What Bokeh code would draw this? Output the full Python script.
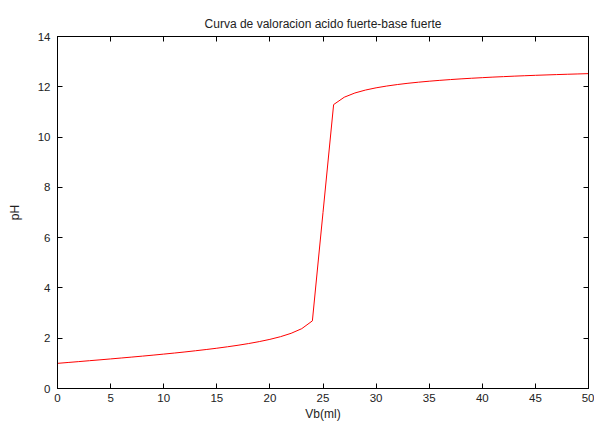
from bokeh.plotting import figure
from bokeh.models import LinearAxis, FixedTicker, Range1d
from bokeh.embed import file_html
from bokeh.resources import INLINE

vb_ml = [0, 1, 2, 3, 4, 5, 6, 7, 8, 9, 10, 11, 12, 13, 14, 15, 16, 17, 18, 19,
         20, 21, 22, 23, 24, 25, 26, 27, 28, 29, 30, 31, 32, 33, 34, 35, 36, 37,
         38, 39, 40, 41, 42, 43, 44, 45, 46, 47, 48, 49, 50]
ph = [1.000, 1.035, 1.070, 1.105, 1.140, 1.176, 1.213, 1.250, 1.288, 1.327,
      1.368, 1.410, 1.454, 1.501, 1.550, 1.602, 1.659, 1.720, 1.788, 1.865,
      1.954, 2.061, 2.195, 2.380, 2.690, 7.000, 11.292, 11.585, 11.753, 11.870,
      11.959, 12.030, 12.089, 12.140, 12.183, 12.222, 12.256, 12.287, 12.315,
      12.340, 12.363, 12.385, 12.404, 12.423, 12.440, 12.456, 12.471, 12.485,
      12.498, 12.511, 12.523]
x_ticks = [0, 5, 10, 15, 20, 25, 30, 35, 40, 45, 50]
y_ticks = [0, 2, 4, 6, 8, 10, 12, 14]

FONT = "Liberation Sans"

p = figure(width=594, height=423, output_backend="svg", toolbar_location=None,
           x_range=Range1d(0, 50), y_range=Range1d(0, 14),
           title="Curva de valoracion acido fuerte-base fuerte",
           min_border_left=57, min_border_right=6, min_border_top=36,
           min_border_bottom=34)
p.title.align = "center"
p.title.text_font = FONT
p.title.text_font_size = "12px"
p.title.text_font_style = "normal"
p.title.text_color = "#222222"
p.title.standoff = 12

p.grid.visible = False
p.outline_line_color = "black"
p.outline_line_width = 1
p.background_fill_color = "white"
p.border_fill_color = "white"

p.line(vb_ml, ph, line_color="#ff0000", line_width=1)

def style(ax, labels=True):
    ax.major_tick_in = 5
    ax.major_tick_out = 0
    ax.minor_tick_line_color = None
    ax.axis_line_color = "black"
    ax.major_tick_line_color = "black"
    ax.major_label_text_font = FONT
    ax.major_label_text_font_size = "11.5px"
    ax.major_label_text_color = "#222222"
    ax.axis_label_text_font = FONT
    ax.axis_label_text_font_size = "12px"
    ax.axis_label_text_font_style = "normal"
    ax.axis_label_text_color = "#222222"
    if not labels:
        ax.major_label_text_color = None
        ax.major_label_standoff = 0

xa = p.xaxis[0]
xa.ticker = FixedTicker(ticks=x_ticks)
xa.axis_label = "Vb(ml)"
style(xa)
xa.major_label_standoff = 5
xa.axis_label_standoff = 2

ya = p.yaxis[0]
ya.ticker = FixedTicker(ticks=y_ticks)
ya.axis_label = "pH"
style(ya)
ya.major_label_standoff = 7
ya.axis_label_standoff = 13

top = LinearAxis(ticker=FixedTicker(ticks=x_ticks))
style(top, labels=False)
p.add_layout(top, "above")
right = LinearAxis(ticker=FixedTicker(ticks=y_ticks))
style(right, labels=False)
p.add_layout(right, "right")

open("out.html", "w").write(file_html(p, INLINE))
